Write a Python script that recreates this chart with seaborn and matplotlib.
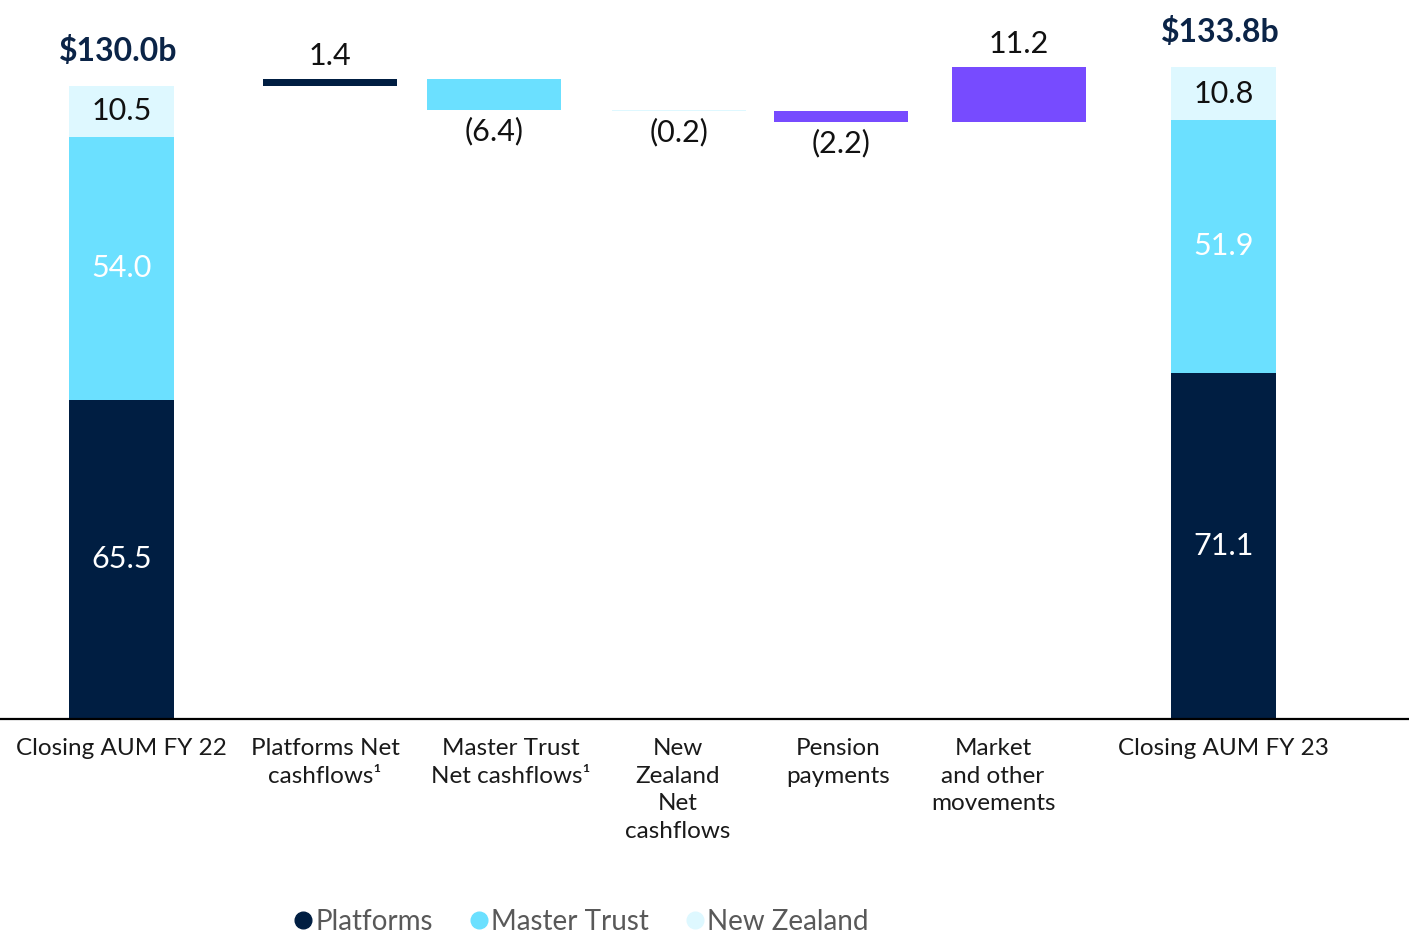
import numpy as np
import pandas as pd
import matplotlib
matplotlib.use("Agg")
import matplotlib.pyplot as plt
import seaborn as sns
from matplotlib.lines import Line2D

# ---------------- data ----------------
categories = [
    "Closing AUM FY 22",
    "Platforms Net\ncashflows\u00b9",
    "Master Trust\nNet cashflows\u00b9",
    "New\nZealand\nNet\ncashflows",
    "Pension\npayments",
    "Market\nand other\nmovements",
    "Closing AUM FY 23",
]
segments = ["Platforms", "Master Trust", "New Zealand"]
fy22_values = [65.5, 54.0, 10.5]
fy23_values = [71.1, 51.9, 10.8]
change_values = [1.4, -6.4, -0.2, -2.2, 11.2]
total_labels = ["$130.0b", "$133.8b"]

# ---------------- style / layout ----------------
NAVY = "#001E42"
CYAN = "#6BE0FF"
PALE = "#DEF8FF"
PURPLE = "#774BFF"
seg_colors = [NAVY, CYAN, PALE]
seg_text_colors = ["white", "white", "#111111"]
change_colors = [NAVY, CYAN, PALE, PURPLE, PURPLE]

xpos = [0, 1.135, 2.028, 3.035, 3.917, 4.886, 6.0]
label_x = [0, 1.108, 2.121, 3.03, 3.901, 4.745, 6.0]
end_w = 0.572
mid_w = 0.73

sns.set_theme(style="white")
plt.rcParams["font.family"] = ["Lato", "DejaVu Sans"]

fig = plt.figure(figsize=(14.09, 9.34), dpi=100)
fig.patch.set_facecolor("white")
ax = fig.add_axes([0, 215 / 934, 1, 719 / 934])


def draw_bar(x, bottom, height, color, width):
    df = pd.DataFrame({"x": [x], "y": [height]})
    sns.barplot(data=df, x="x", y="y", native_scale=True, orient="x",
                color=color, saturation=1, width=width, errorbar=None,
                bottom=bottom, linewidth=0, ax=ax)


# closing bars (stacked)
for xi, vals, tlabel in [(xpos[0], fy22_values, total_labels[0]),
                         (xpos[-1], fy23_values, total_labels[1])]:
    base = 0.0
    for v, c, tc in zip(vals, seg_colors, seg_text_colors):
        draw_bar(xi, base, v, c, end_w)
        ax.text(xi, base + v / 2, f"{v:.1f}", ha="center", va="center",
                fontsize=22, color=tc)
        base += v
    ax.text(xi - 0.02, base + 7.2, tlabel, ha="center", va="center",
            fontsize=23, fontweight="bold", color="#0B2447")

# floating change bars
running = sum(fy22_values)
for i, (v, c) in enumerate(zip(change_values, change_colors)):
    xi = xpos[i + 1]
    draw_bar(xi, running, v, c, mid_w)
    if v >= 0:
        lab = f"{v:.1f}"
        ax.text(xi, running + v + 4.8, lab, ha="center", va="center",
                fontsize=22, color="#111111")
    else:
        lab = f"({abs(v):.1f})"
        ax.text(xi, running + v - 4.3, lab, ha="center", va="center",
                fontsize=22, color="#111111")
    running += v

# category labels
for lx, lab in zip(label_x, categories):
    ax.annotate(lab, xy=(lx, 0), xycoords="data", xytext=(0, -14),
                textcoords="offset points", ha="center", va="top",
                multialignment="center", fontsize=17.5, color="#1a1a1a",
                linespacing=1.38, annotation_clip=False)

ax.set_xlim(-0.6615, 7.0097)
ax.set_ylim(0, 147.6)
ax.set_xticks([])
ax.set_yticks([])
ax.set_xlabel("")
ax.set_ylabel("")
for s in ["left", "top", "right"]:
    ax.spines[s].set_visible(False)
ax.spines["bottom"].set_color("black")
ax.spines["bottom"].set_linewidth(1.6)
ax.set_facecolor("white")

handles = [Line2D([0], [0], marker="o", linestyle="none", markersize=12,
                  markerfacecolor=c, markeredgecolor=c) for c in seg_colors]
leg = fig.legend(handles, segments, loc="center",
                 bbox_to_anchor=(581 / 1409, 1 - 922 / 934), ncol=3,
                 frameon=False, fontsize=20, handletextpad=0.1,
                 columnspacing=1.3, handlelength=0.7)
for t in leg.get_texts():
    t.set_color("#595959")

fig.savefig("out.png", dpi=100, facecolor="white")
